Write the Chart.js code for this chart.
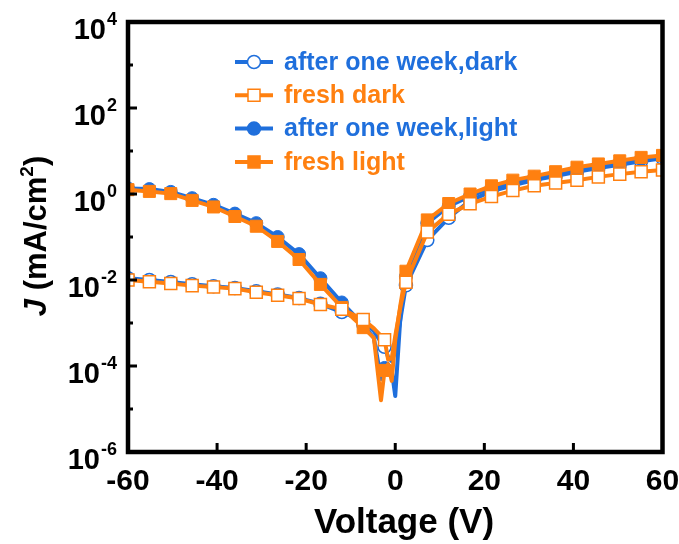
<!DOCTYPE html>
<html>
<head>
<meta charset="utf-8">
<script src="https://cdn.jsdelivr.net/npm/chart.js@4.4.1/dist/chart.umd.min.js"></script>
<style>
  html, body { margin: 0; padding: 0; background: #fff; }
</style>
</head>
<body>
<canvas id="jv" width="679" height="544"></canvas>
<script>
// J-V curves, voltage in V, current density in mA/cm2
const voltage = [-60, -55.2, -50.4, -45.6, -40.8, -36, -31.2, -26.4, -21.6, -16.8, -12, -7.2,
  -4.8, -3.2, -2.4, -1.6, -0.8, 0, 1.2,
  2.4, 7.2, 12, 16.8, 21.6, 26.4, 31.2, 36, 40.8, 45.6, 50.4, 55.2, 60];

const weekDark = [1.1e-2, 1.0e-2, 9.0e-3, 8.0e-3, 7.2e-3, 6.5e-3, 5.5e-3, 4.6e-3, 3.8e-3, 2.8e-3, 1.8e-3, 1.1e-3,
  6.5e-4, 3.6e-4, 2.8e-4, 1.6e-4, 1.3e-4, 2.2e-4, 1.3e-3,
  7.5e-3, 8.5e-2, 0.28, 0.70, 1.15, 1.6, 2.1, 2.6, 3.3, 4.0, 4.8, 5.8, 6.8];

const freshDark = [1.0e-2, 9.1e-3, 8.3e-3, 7.4e-3, 6.9e-3, 6.3e-3, 5.2e-3, 4.4e-3, 3.7e-3, 2.7e-3, 2.1e-3, 1.2e-3,
  7.5e-4, 5.0e-4, 4.1e-4, 1.4e-4, 1.5e-4, 5.0e-4, 2.5e-3,
  8.9e-3, 0.13, 0.34, 0.59, 0.87, 1.2, 1.55, 1.8, 2.1, 2.5, 2.9, 3.3, 3.6];

const weekLight = [1.35, 1.3, 1.12, 0.80, 0.56, 0.35, 0.21, 0.10, 4.0e-2, 1.1e-2, 3.0e-3, 9.0e-4,
  4.5e-4, 5.0e-5, 9.0e-5, 1.1e-4, 8.0e-5, 2.0e-5, 1.6e-3,
  1.2e-2, 0.21, 0.52, 0.89, 1.38, 1.9, 2.4, 3.0, 3.8, 4.6, 5.4, 6.5, 7.6];

const freshLight = [1.26, 1.15, 1.02, 0.71, 0.50, 0.30, 0.178, 7.9e-2, 3.0e-2, 7.9e-3, 2.3e-3, 7.8e-4,
  4.5e-4, 1.6e-5, 7.9e-5, 1.1e-4, 4.5e-5, 4.0e-4, 2.8e-3,
  1.6e-2, 0.25, 0.60, 1.0, 1.55, 2.1, 2.6, 3.3, 4.2, 5.0, 5.9, 7.1, 7.9];

const xTicks = [-60, -40, -20, 0, 20, 40, 60];
const yExponents = [4, 2, 0, -2, -4, -6];
const yMinorExponents = [3, 1, -1, -3, -5];

const BLUE = '#1f6fdc';
const ORANGE = '#ff8010';
const FONT = '"Liberation Sans", Arial, sans-serif';

// markers sit on the 4.8 V grid only, the extra points near 0 have none
function onGrid(v) {
  const k = (Math.abs(v) - 2.4) / 4.8;
  return Math.abs(k - Math.round(k)) < 1e-6;
}

function series(label, values, color, style, open, order) {
  return {
    label: label,
    data: voltage.map((v, i) => ({ x: v, y: values[i] })),
    borderColor: color,
    borderWidth: 4,
    borderJoinStyle: 'round',
    borderCapStyle: 'round',
    tension: 0,
    pointStyle: style,
    pointRadius: ctx => onGrid(voltage[ctx.dataIndex]) ? (style === 'rect' ? 8.5 : 6.5) : 0,
    pointBackgroundColor: open ? '#ffffff' : color,
    pointBorderColor: color,
    pointBorderWidth: open ? 1.5 : 1,
    order: order,
    _open: open
  };
}

function marker(ctx, style, open, color, x, y) {
  ctx.beginPath();
  if (style === 'rect') {
    ctx.rect(x - 6, y - 6, 12, 12);
  } else {
    ctx.arc(x, y, 6.5, 0, Math.PI * 2);
  }
  ctx.fillStyle = open ? '#ffffff' : color;
  ctx.fill();
  ctx.lineWidth = 1.5;
  ctx.strokeStyle = color;
  ctx.stroke();
}

const decor = {
  id: 'decor',
  afterDraw(chart) {
    const { ctx, chartArea: a, scales: { x, y } } = chart;
    ctx.save();

    // frame
    ctx.strokeStyle = '#000';
    ctx.lineWidth = 4.5;
    ctx.strokeRect(a.left, a.top, a.right - a.left, a.bottom - a.top);

    // inward ticks
    ctx.lineWidth = 3;
    ctx.beginPath();
    xTicks.slice(1, -1).forEach(v => {
      const px = x.getPixelForValue(v);
      ctx.moveTo(px, a.bottom);
      ctx.lineTo(px, a.bottom - 9);
    });
    yExponents.slice(1, -1).forEach(e => {
      const py = y.getPixelForValue(Math.pow(10, e));
      ctx.moveTo(a.left, py);
      ctx.lineTo(a.left + 9, py);
    });
    yMinorExponents.forEach(e => {
      const py = y.getPixelForValue(Math.pow(10, e));
      ctx.moveTo(a.left, py);
      ctx.lineTo(a.left + 5, py);
    });
    ctx.stroke();

    // x tick labels
    ctx.fillStyle = '#000';
    ctx.font = 'bold 30px ' + FONT;
    ctx.textAlign = 'center';
    ctx.textBaseline = 'alphabetic';
    xTicks.forEach(v => {
      ctx.fillText(String(v), x.getPixelForValue(v), 490);
    });

    // y tick labels 10^n
    yExponents.forEach(e => {
      const py = y.getPixelForValue(Math.pow(10, e));
      ctx.textAlign = 'right';
      ctx.font = 'bold 18px ' + FONT;
      const sup = String(e);
      const supW = ctx.measureText(sup).width;
      ctx.fillText(sup, 117, py + 3);
      ctx.font = 'bold 29px ' + FONT;
      ctx.fillText('10', 117 - supW - 1, py + 17);
    });

    // axis titles
    ctx.textAlign = 'center';
    ctx.font = 'bold 35px ' + FONT;
    ctx.fillText('Voltage (V)', 404, 533);

    ctx.save();
    ctx.translate(46, 236);
    ctx.rotate(-Math.PI / 2);
    ctx.textAlign = 'left';
    const parts = [
      ['italic bold 31px ', 'J', 0],
      ['bold 31px ', ' (mA/cm', 0],
      ['bold 19px ', '2', -13],
      ['bold 31px ', ')', 0]
    ];
    let total = 0;
    parts.forEach(p => { ctx.font = p[0] + FONT; total += ctx.measureText(p[1]).width; });
    let cx = -total / 2;
    parts.forEach(p => {
      ctx.font = p[0] + FONT;
      ctx.fillText(p[1], cx, p[2]);
      cx += ctx.measureText(p[1]).width;
    });
    ctx.restore();

    // legend, same order as the datasets
    ctx.textAlign = 'left';
    ctx.textBaseline = 'middle';
    ctx.font = 'bold 25px ' + FONT;
    chart.data.datasets.forEach((ds, i) => {
      const ly = 62 + i * 33.3;
      ctx.strokeStyle = ds.borderColor;
      ctx.lineWidth = 4;
      ctx.beginPath();
      ctx.moveTo(235, ly);
      ctx.lineTo(273, ly);
      ctx.stroke();
      marker(ctx, ds.pointStyle, ds._open, ds.borderColor, 254, ly);
      ctx.fillStyle = ds.borderColor;
      ctx.fillText(ds.label, 284, ly + 1);
    });

    ctx.restore();
  }
};

new Chart(document.getElementById('jv'), {
  type: 'line',
  data: {
    datasets: [
      series('after one week,dark', weekDark, BLUE, 'circle', true, 3),
      series('fresh dark', freshDark, ORANGE, 'rect', true, 0),
      series('after one week,light', weekLight, BLUE, 'circle', false, 2),
      series('fresh light', freshLight, ORANGE, 'rect', false, 1)
    ]
  },
  options: {
    responsive: false,
    animation: false,
    layout: { padding: { left: 128, top: 22, right: 16.5, bottom: 92 } },
    plugins: { legend: { display: false }, tooltip: { enabled: false } },
    scales: {
      x: { type: 'linear', min: -60, max: 60, display: false },
      y: { type: 'logarithmic', min: 1e-6, max: 1e4, display: false }
    }
  },
  plugins: [decor]
});
</script>
</body>
</html>
